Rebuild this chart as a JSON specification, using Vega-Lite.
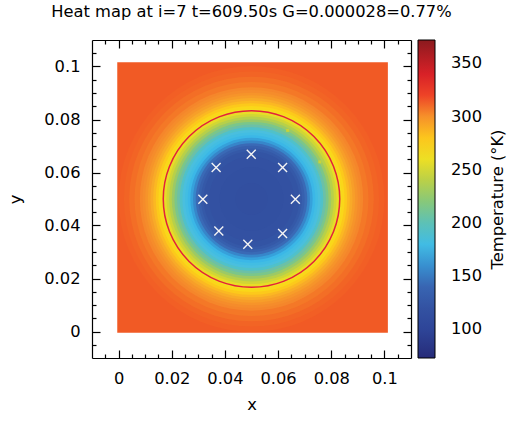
{
  "$schema": "https://vega.github.io/schema/vega-lite/v6.json",
  "width": 319,
  "height": 318,
  "autosize": {"type": "none"},
  "padding": {"left": 92, "top": 40, "right": 97, "bottom": 63},
  "title": {"text": "Heat map at i=7 t=609.50s G=0.000028=0.77%", "font": "DejaVu Sans", "fontSize": 16.3, "fontWeight": "normal", "color": "black", "anchor": "middle", "frame": "group", "baseline": "alphabetic", "offset": 5.7},
  "config": {
    "view": {"stroke": null},
    "font": "DejaVu Sans",
    "axis": {"domainColor": "black", "domainWidth": 1.2, "tickColor": "black", "tickWidth": 1.2, "grid": false, "labelFontSize": 16.3, "labelColor": "black", "titleFontSize": 16.3, "titleFontWeight": "normal", "titleColor": "black", "labelOverlap": false, "labelFlush": false}
  },
  "datasets": {
    "square": [{"x": -0.0005, "x2": 0.1013, "y": -0.0005, "y2": 0.1016, "t": 313}],
    "rings": [
      {"x": 0.05, "y": 0.05, "r": 0.050, "t": 312},
      {"x": 0.05, "y": 0.05, "r": 0.048, "t": 311},
      {"x": 0.05, "y": 0.05, "r": 0.046, "t": 309},
      {"x": 0.05, "y": 0.05, "r": 0.044, "t": 307},
      {"x": 0.05, "y": 0.05, "r": 0.042, "t": 304},
      {"x": 0.05, "y": 0.05, "r": 0.041, "t": 302},
      {"x": 0.05, "y": 0.05, "r": 0.040, "t": 299},
      {"x": 0.05, "y": 0.05, "r": 0.039, "t": 295},
      {"x": 0.05, "y": 0.05, "r": 0.038, "t": 290},
      {"x": 0.05, "y": 0.05, "r": 0.037, "t": 285},
      {"x": 0.05, "y": 0.05, "r": 0.036, "t": 279},
      {"x": 0.05, "y": 0.05, "r": 0.035, "t": 272},
      {"x": 0.05, "y": 0.05, "r": 0.034, "t": 265},
      {"x": 0.05, "y": 0.05, "r": 0.033, "t": 258},
      {"x": 0.05, "y": 0.05, "r": 0.032, "t": 249},
      {"x": 0.05, "y": 0.05, "r": 0.031, "t": 239},
      {"x": 0.05, "y": 0.05, "r": 0.030, "t": 227},
      {"x": 0.05, "y": 0.05, "r": 0.029, "t": 215},
      {"x": 0.05, "y": 0.05, "r": 0.028, "t": 204},
      {"x": 0.05, "y": 0.05, "r": 0.027, "t": 195},
      {"x": 0.05, "y": 0.05, "r": 0.026, "t": 187},
      {"x": 0.05, "y": 0.05, "r": 0.025, "t": 181},
      {"x": 0.05, "y": 0.05, "r": 0.024, "t": 174},
      {"x": 0.05, "y": 0.05, "r": 0.023, "t": 166},
      {"x": 0.05, "y": 0.05, "r": 0.022, "t": 156},
      {"x": 0.05, "y": 0.05, "r": 0.021, "t": 145},
      {"x": 0.05, "y": 0.05, "r": 0.020, "t": 135},
      {"x": 0.05, "y": 0.05, "r": 0.019, "t": 127},
      {"x": 0.05, "y": 0.05, "r": 0.018, "t": 122},
      {"x": 0.05, "y": 0.05, "r": 0.016, "t": 119},
      {"x": 0.05, "y": 0.05, "r": 0.012, "t": 117},
      {"x": 0.05, "y": 0.05, "r": 0.006, "t": 116}
    ],
    "outline": [{"x": 0.05, "y": 0.05, "r": 0.0332}],
    "spots": [{"x": 0.0636, "y": 0.0759, "t": 245}, {"x": 0.0757, "y": 0.064, "t": 245}],
    "sensors": [
      {"x": 0.0499, "y": 0.0669},
      {"x": 0.0367, "y": 0.0619},
      {"x": 0.0617, "y": 0.0619},
      {"x": 0.0317, "y": 0.0499},
      {"x": 0.0665, "y": 0.0499},
      {"x": 0.0377, "y": 0.0379},
      {"x": 0.0617, "y": 0.037},
      {"x": 0.0486, "y": 0.0329}
    ]
  },
  "layer": [
    {
      "encoding": {
        "x": {"field": "x", "type": "quantitative", "scale": {"domain": [-0.01, 0.11], "nice": false, "zero": false},
          "axis": {"title": "x", "values": [-0.005,0,0.005,0.01,0.015,0.02,0.025,0.03,0.035,0.04,0.045,0.05,0.055,0.06,0.065,0.07,0.075,0.08,0.085,0.09,0.095,0.1,0.105],
            "labelExpr": "abs(datum.value*50 - round(datum.value*50)) < 0.001 ? format(datum.value, '.2~f') : ''",
            "tickSize": {"condition": {"test": "abs(datum.value*50 - round(datum.value*50)) < 0.001", "value": -8}, "value": -4},
            "labelPadding": 20, "titlePadding": 6}},
        "y": {"field": "y", "type": "quantitative", "scale": {"domain": [-0.01, 0.11], "nice": false, "zero": false},
          "axis": {"title": "y", "values": [-0.005,0,0.005,0.01,0.015,0.02,0.025,0.03,0.035,0.04,0.045,0.05,0.055,0.06,0.065,0.07,0.075,0.08,0.085,0.09,0.095,0.1,0.105],
            "labelExpr": "abs(datum.value*50 - round(datum.value*50)) < 0.001 ? format(datum.value, '.2~f') : ''",
            "tickSize": {"condition": {"test": "abs(datum.value*50 - round(datum.value*50)) < 0.001", "value": -8}, "value": -4},
            "labelPadding": 20, "titlePadding": 20}}
      },
      "layer": [
        {
          "data": {"name": "square"},
          "mark": {"type": "rect"},
          "encoding": {
            "x2": {"field": "x2"},
            "y2": {"field": "y2"},
            "color": {"field": "t", "type": "quantitative",
              "scale": {"domain": [73, 95, 120, 145, 160, 175, 190, 205, 225, 245, 262, 275, 290, 303, 315, 330, 345, 372],
                "range": ["#262a78", "#2d4296", "#3352a2", "#3a6ab6", "#3890d0", "#3cbae8", "#4ec0dc", "#70c0a4", "#98c86a", "#c8d23a", "#f2e020", "#fcd418", "#f8aa28", "#f58a2c", "#f04e26", "#e8262a", "#d01e26", "#8a1a1e"]},
              "legend": {"title": null, "values": [100, 150, 200, 250, 300, 350], "orient": "none", "legendX": 326, "legendY": 0, "direction": "vertical", "padding": 0,
                "gradientLength": 318, "gradientThickness": 17, "gradientStrokeColor": "black", "gradientStrokeWidth": 1,
                "labelFontSize": 16.3, "labelColor": "black", "labelOffset": 16}}
          }
        },
        {
          "data": {"name": "rings"},
          "mark": {"type": "point", "shape": "circle", "filled": true, "opacity": 1, "strokeWidth": 0},
          "encoding": {
            "size": {"field": "r", "type": "quantitative", "scale": {"type": "pow", "exponent": 2, "domain": [0, 0.05], "range": [0, 70650]}, "legend": null},
            "color": {"field": "t", "type": "quantitative"},
            "order": {"field": "r", "sort": "descending"}
          }
        },
        {
          "data": {"name": "outline"},
          "mark": {"type": "point", "shape": "circle", "filled": false, "stroke": "#e3213b", "strokeWidth": 1.5, "opacity": 1},
          "encoding": {
            "size": {"field": "r", "type": "quantitative"}
          }
        },
        {
          "data": {"name": "spots"},
          "mark": {"type": "square", "size": 9, "opacity": 1},
          "encoding": {
            "color": {"field": "t", "type": "quantitative"}
          }
        }
      ]
    },
    {
      "data": {"name": "sensors"},
      "mark": {"type": "point", "shape": "M-1,-1L1,1M-1,1L1,-1", "size": 80, "filled": false, "stroke": "#f4f4f4", "strokeWidth": 1.4, "opacity": 1},
      "encoding": {
        "x": {"field": "x", "type": "quantitative",
          "axis": {"orient": "top", "title": null, "labels": false, "values": [-0.005,0,0.005,0.01,0.015,0.02,0.025,0.03,0.035,0.04,0.045,0.05,0.055,0.06,0.065,0.07,0.075,0.08,0.085,0.09,0.095,0.1,0.105],
            "tickSize": {"condition": {"test": "abs(datum.value*50 - round(datum.value*50)) < 0.001", "value": -8}, "value": -4}}},
        "y": {"field": "y", "type": "quantitative",
          "axis": {"orient": "right", "title": "Temperature (°K)", "titleAngle": 270, "titleBaseline": "top", "titleAlign": "center", "titlePadding": 78, "labels": false, "values": [-0.005,0,0.005,0.01,0.015,0.02,0.025,0.03,0.035,0.04,0.045,0.05,0.055,0.06,0.065,0.07,0.075,0.08,0.085,0.09,0.095,0.1,0.105],
            "tickSize": {"condition": {"test": "abs(datum.value*50 - round(datum.value*50)) < 0.001", "value": -8}, "value": -4}}}
      }
    }
  ],
  "resolve": {"axis": {"x": "independent", "y": "independent"}}
}
